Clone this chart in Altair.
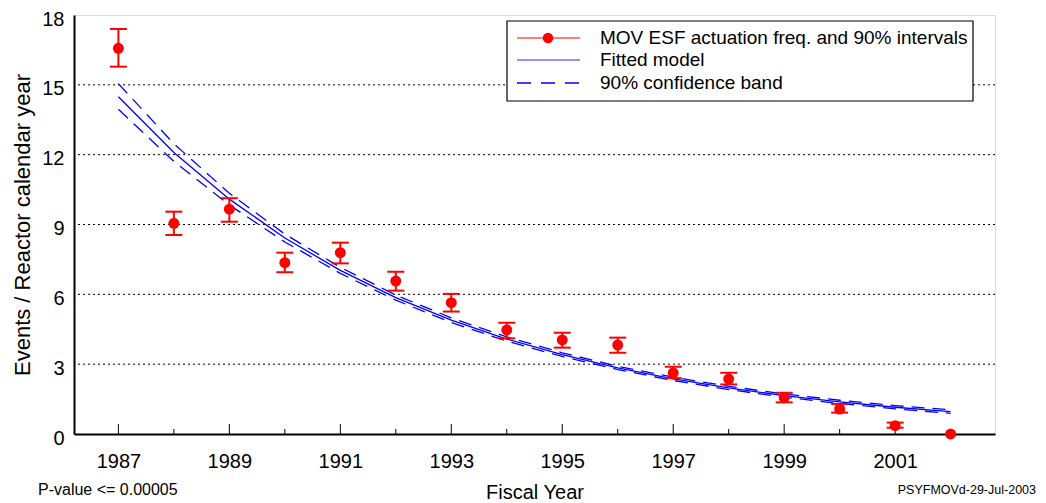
import altair as alt
import pandas as pd

FONT = "Liberation Sans"

years = list(range(1987, 2003))
rate = [16.57, 9.05, 9.66, 7.36, 7.79, 6.57, 5.64, 4.47, 4.04, 3.82, 2.63, 2.36, 1.56, 1.07, 0.36, 0.0]
ci_low = [15.78, 8.55, 9.12, 6.95, 7.33, 6.16, 5.26, 4.11, 3.71, 3.49, 2.40, 2.13, 1.36, 0.92, 0.27, None]
ci_high = [17.40, 9.55, 10.13, 7.79, 8.22, 6.97, 6.02, 4.78, 4.35, 4.14, 2.89, 2.63, 1.77, 1.29, 0.49, None]

fit = [14.49, 12.09, 10.09, 8.42, 7.03, 5.86, 4.89, 4.08, 3.41, 2.84, 2.37, 1.98, 1.65, 1.38, 1.15, 0.96]
band_hi = [15.05, 12.47, 10.34, 8.59, 7.16, 5.97, 4.99, 4.17, 3.49, 2.91, 2.44, 2.05, 1.72, 1.45, 1.22, 1.04]
band_lo = [13.95, 11.71, 9.84, 8.25, 6.90, 5.75, 4.79, 3.99, 3.33, 2.77, 2.30, 1.91, 1.58, 1.31, 1.08, 0.89]

y_ticks = [0, 3, 6, 9, 12, 15, 18]
grid_vals = [3, 6, 9, 12, 15]
major_years = [1987, 1989, 1991, 1993, 1995, 1997, 1999, 2001]
minor_years = [1988, 1990, 1992, 1994, 1996, 1998, 2000, 2002]

legend_labels = ["MOV ESF actuation freq. and 90% intervals", "Fitted model", "90% confidence band"]

W, H = 921, 419

pts = pd.DataFrame({"year": years, "rate": rate, "lo": ci_low, "hi": ci_high})
lines = pd.DataFrame({"year": years, "fit": fit})
band = pd.DataFrame({
    "year": years * 2,
    "val": band_hi + band_lo,
    "series": ["upper"] * len(years) + ["lower"] * len(years),
})

xscale = alt.Scale(domain=[1986.2, 2002.8], nice=False, zero=False)
yscale = alt.Scale(domain=[0, 18], nice=False)

base_x = alt.X("year:Q", scale=xscale,
               axis=alt.Axis(values=major_years, format="d", tickSize=0, labelPadding=17,
                             labelFontSize=20, labelFont=FONT, labelColor="black",
                             domainColor="black", domainWidth=2, grid=False,
                             title="Fiscal Year", titleFontSize=20, titleFont=FONT,
                             titleFontWeight="normal", titleColor="black", titlePadding=11))

grid = alt.Chart(pd.DataFrame({"g": grid_vals})).mark_rule(
    color="black", strokeWidth=1, strokeDash=[2, 3]
).encode(
    y=alt.Y("g:Q", scale=yscale,
            axis=alt.Axis(values=y_ticks, tickSize=0, labelPadding=10, labelFontSize=20,
                          labelOffset=4, labelFont=FONT, labelColor="black", domainColor="black",
                          domainWidth=2, grid=False,
                          title="Events / Reactor calendar year", titleFontSize=22,
                          titleFont=FONT, titleFontWeight="normal", titleColor="black",
                          titlePadding=7))
)

major = alt.Chart(pd.DataFrame({"year": major_years})).mark_rule(color="black", strokeWidth=1).encode(
    x=base_x, y=alt.value(H), y2=alt.value(H - 10)
)
minor = alt.Chart(pd.DataFrame({"year": minor_years})).mark_rule(color="black", strokeWidth=1).encode(
    x=alt.X("year:Q", scale=xscale), y=alt.value(H), y2=alt.value(H - 5)
)

band_lines = alt.Chart(band).mark_line(color="#0000ff", strokeWidth=1.3, strokeDash=[13, 8]).encode(
    x=alt.X("year:Q", scale=xscale), y=alt.Y("val:Q", scale=yscale), detail="series:N"
)
fit_line = alt.Chart(lines).mark_line(color="#0000ff", strokeWidth=1.3).encode(
    x=alt.X("year:Q", scale=xscale), y=alt.Y("fit:Q", scale=yscale)
)

err = alt.Chart(pts).mark_rule(color="#ff0000", strokeWidth=2).encode(
    x=alt.X("year:Q", scale=xscale), y=alt.Y("lo:Q", scale=yscale), y2="hi:Q"
)
cap_hi = alt.Chart(pts).mark_tick(color="#ff0000", thickness=2, size=17, orient="horizontal", opacity=1).encode(
    x=alt.X("year:Q", scale=xscale), y=alt.Y("hi:Q", scale=yscale)
)
cap_lo = alt.Chart(pts).mark_tick(color="#ff0000", thickness=2, size=17, orient="horizontal", opacity=1).encode(
    x=alt.X("year:Q", scale=xscale), y=alt.Y("lo:Q", scale=yscale)
)
dots = alt.Chart(pts).mark_circle(color="#ff0000", size=120, opacity=1).encode(
    x=alt.X("year:Q", scale=xscale), y=alt.Y("rate:Q", scale=yscale)
)

# Legend (manual)
one = pd.DataFrame({"k": [0]})
leg_box = alt.Chart(one).mark_rect(fill="white", stroke="black", strokeWidth=1.2).encode(
    x=alt.value(433), x2=alt.value(899), y=alt.value(6), y2=alt.value(86)
)
leg_l1 = alt.Chart(one).mark_rule(color="#ff0000", strokeWidth=1).encode(
    x=alt.value(443), x2=alt.value(506), y=alt.value(23)
)
leg_p1 = alt.Chart(one).mark_circle(color="#ff0000", size=110, opacity=1).encode(
    x=alt.value(474), y=alt.value(23)
)
leg_l2 = alt.Chart(one).mark_rule(color="#6f6fff", strokeWidth=1.3).encode(
    x=alt.value(443), x2=alt.value(506), y=alt.value(45)
)
leg_l3 = alt.Chart(one).mark_rule(color="#0000ff", strokeWidth=1.3, strokeDash=[14, 10]).encode(
    x=alt.value(443), x2=alt.value(506), y=alt.value(68)
)
leg_texts = [
    alt.Chart(one).mark_text(align="left", baseline="middle", fontSize=19, font=FONT, color="black").encode(
        x=alt.value(526), y=alt.value(yy), text=alt.value(lab)
    )
    for lab, yy in zip(legend_labels, [23, 45, 68])
]

pval = alt.Chart(one).mark_text(align="left", baseline="middle", fontSize=16, font=FONT, color="black").encode(
    x=alt.value(-36), y=alt.value(475), text=alt.value("P-value <= 0.00005")
)
stamp = alt.Chart(one).mark_text(align="right", baseline="middle", fontSize=12.5, font=FONT, color="black").encode(
    x=alt.value(962), y=alt.value(475), text=alt.value("PSYFMOVd-29-Jul-2003")
)

chart = alt.layer(
    grid, major, minor, band_lines, fit_line, err, cap_hi, cap_lo, dots,
    leg_box, leg_l1, leg_p1, leg_l2, leg_l3, *leg_texts, pval, stamp
).properties(
    width=W, height=H,
    autosize=alt.AutoSizeParams(type="none"),
    padding={"left": 66, "top": 7, "right": 43, "bottom": 68},
).configure_view(
    stroke="black", strokeWidth=1
).configure(background="white")

chart.save("out.html", embed_options={"renderer": "svg", "actions": False})
